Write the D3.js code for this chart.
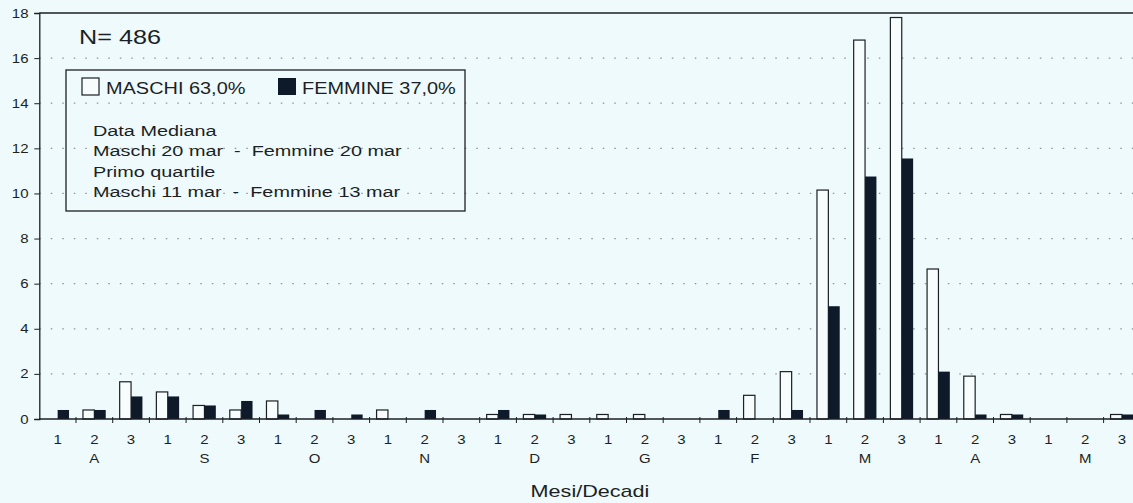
<!DOCTYPE html>
<html>
<head>
<meta charset="utf-8">
<script src="https://cdn.jsdelivr.net/npm/d3@7"></script>
<style>
  html, body { margin: 0; padding: 0; background: #eefafb; }
  svg { display: block; }
  text { font-family: "Liberation Sans", Arial, Helvetica, sans-serif; fill: #1c1f24; }
</style>
</head>
<body>
<svg id="chart" width="1133" height="503"></svg>
<script>
// ---- data ----
const months = ["A", "S", "O", "N", "D", "G", "F", "M", "A", "M"];
const decadi = ["1", "2", "3"];
const categories = months.flatMap((m, i) => decadi.map(d => `${i}-${d}`));
const maschi = [
  0, 0.4, 1.65,   1.2, 0.6, 0.4,   0.8, 0, 0,   0.4, 0, 0,
  0.2, 0.2, 0.2,  0.2, 0.2, 0,     0, 1.05, 2.1, 10.15, 16.8, 17.8,
  6.65, 1.9, 0.2, 0, 0, 0.2
];
const femmine = [
  0.4, 0.4, 1.0,  1.0, 0.6, 0.8,   0.2, 0.4, 0.2, 0, 0.4, 0,
  0.4, 0.2, 0,    0, 0, 0,         0.4, 0, 0.4,  5.0, 10.75, 11.55,
  2.1, 0.2, 0.2,  0, 0, 0.2
];
const yTicks = [0, 2, 4, 6, 8, 10, 12, 14, 16, 18];
const seriesNames = ["MASCHI 63,0%", "FEMMINE 37,0%"];
const noteLines = [
  "Data Mediana",
  "Maschi 20 mar  -  Femmine 20 mar",
  "Primo quartile",
  "Maschi 11 mar  -  Femmine 13 mar"
];
const nLabel = "N= 486";
const xTitle = "Mesi/Decadi";

(function draw() {
  const W = 1133;
  const plotLeft = 39.3, bandW = 36.7;
  const plotTop = 13, plotBottom = 419;
  const SX = 1.2; // horizontal stretch of the scanned text
  const ink = "#1c1f24", barInk = "#0e1a2a";

  const svg = d3.select("#chart");

  const x = d3.scaleBand().domain(categories).range([plotLeft, plotLeft + bandW * categories.length]).padding(0);
  const xs = d3.scaleBand().domain(["M", "F"]).range([bandW * 0.19, bandW * 0.81]).padding(0);
  const y = d3.scaleLinear().domain([0, 18]).range([plotBottom, plotTop]);

  // grid (dotted)
  svg.append("g").selectAll("line").data(yTicks.filter(t => t > 0 && t < 18)).join("line")
    .attr("x1", plotLeft).attr("x2", W)
    .attr("y1", d => y(d)).attr("y2", d => y(d))
    .attr("stroke", "#8d9499").attr("stroke-width", 1.2)
    .attr("stroke-dasharray", "1.5,10");

  // top border
  svg.append("line").attr("x1", plotLeft).attr("x2", W).attr("y1", y(18)).attr("y2", y(18))
    .attr("stroke", ink).attr("stroke-width", 1.3);

  // bars
  const groups = svg.append("g").selectAll("g").data(categories).join("g")
    .attr("transform", d => `translate(${x(d)},0)`);
  groups.append("rect")
    .attr("x", xs("M")).attr("width", xs.bandwidth())
    .attr("y", (d, i) => y(maschi[i])).attr("height", (d, i) => y(0) - y(maschi[i]))
    .attr("fill", "#f7fdfd").attr("stroke", ink).attr("stroke-width", 1.2)
    .style("display", (d, i) => maschi[i] > 0 ? null : "none");
  groups.append("rect")
    .attr("x", xs("F")).attr("width", xs.bandwidth())
    .attr("y", (d, i) => y(femmine[i])).attr("height", (d, i) => y(0) - y(femmine[i]))
    .attr("fill", barInk)
    .style("display", (d, i) => femmine[i] > 0 ? null : "none");

  // y axis
  const yAxis = svg.append("g").attr("transform", `translate(${plotLeft},0)`)
    .call(d3.axisLeft(y).tickValues(yTicks).tickSize(5).tickPadding(10).tickFormat(d3.format("d")));
  yAxis.select(".domain").attr("stroke", ink).attr("stroke-width", 1.3);
  yAxis.selectAll(".tick line").attr("stroke", ink);
  yAxis.selectAll("text").attr("font-size", 12.5).attr("fill", ink)
    .attr("font-family", "Liberation Sans, Arial, sans-serif")
    .attr("transform", `scale(${SX},1)`).attr("x", -9);

  // x axis: baseline + boundary ticks
  svg.append("line").attr("x1", plotLeft).attr("x2", W).attr("y1", y(0)).attr("y2", y(0))
    .attr("stroke", ink).attr("stroke-width", 1.3);
  svg.append("g").selectAll("line").data(categories.slice(1)).join("line")
    .attr("x1", d => x(d)).attr("x2", d => x(d))
    .attr("y1", y(0) - 2).attr("y2", y(0) + 4)
    .attr("stroke", ink).attr("stroke-width", 1);

  // decade labels via axis
  const xAxis = svg.append("g").attr("transform", `translate(0,${y(0)})`)
    .call(d3.axisBottom(x).tickSize(0).tickPadding(16).tickFormat(d => d.split("-")[1]));
  xAxis.select(".domain").remove();
  xAxis.selectAll("text").attr("font-size", 12.5).attr("fill", ink)
    .attr("font-family", "Liberation Sans, Arial, sans-serif")
    .attr("transform", `scale(${SX},1)`);

  // month labels under the middle decade
  svg.append("g").selectAll("text").data(months).join("text")
    .attr("transform", (d, i) => `translate(${x(i + "-2") + bandW / 2},463) scale(${SX},1)`)
    .attr("text-anchor", "middle").attr("font-size", 12.5)
    .text(d => d);

  // axis title
  svg.append("text")
    .attr("transform", `translate(590,497) scale(1.35,1)`)
    .attr("text-anchor", "middle").attr("font-size", 16)
    .text(xTitle);

  // N label
  svg.append("text")
    .attr("transform", `translate(79,44) scale(${SX},1)`)
    .attr("font-size", 21)
    .text(nLabel);

  // legend box
  svg.append("rect").attr("x", 66).attr("y", 70).attr("width", 399).attr("height", 141)
    .attr("fill", "none").attr("stroke", ink).attr("stroke-width", 1.3);
  svg.append("rect").attr("x", 82).attr("y", 78).attr("width", 17).attr("height", 17)
    .attr("fill", "#f7fdfd").attr("stroke", ink).attr("stroke-width", 1.2);
  svg.append("text").attr("transform", `translate(106,94) scale(${SX},1)`)
    .attr("font-size", 16.6).text(seriesNames[0]);
  svg.append("rect").attr("x", 278).attr("y", 78).attr("width", 18).attr("height", 17)
    .attr("fill", barInk);
  svg.append("text").attr("transform", `translate(302,94) scale(${SX},1)`)
    .attr("font-size", 16.6).text(seriesNames[1]);

  svg.append("g").selectAll("text").data(noteLines).join("text")
    .attr("transform", (d, i) => `translate(93,${135.5 + i * 20.6}) scale(1.28,1)`)
    .attr("font-size", 15.5)
    .style("white-space", "pre")
    .text(d => d);
})();
</script>
</body>
</html>
